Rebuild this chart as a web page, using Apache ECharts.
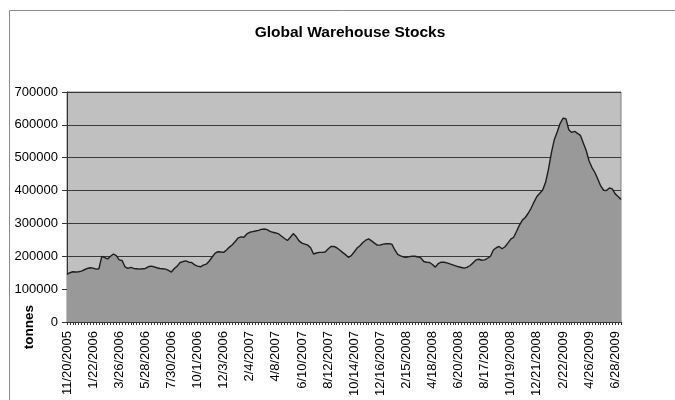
<!DOCTYPE html>
<html>
<head>
<meta charset="utf-8">
<title>Global Warehouse Stocks</title>
<script src="https://cdn.jsdelivr.net/npm/echarts@6/dist/echarts.min.js"></script>
<style>
  html, body { margin: 0; padding: 0; background: #fff; }
  #chart { width: 675px; height: 400px; }
</style>
</head>
<body>
<div id="chart"></div>
<script>
// Dated axis labels, one every nine weekly readings
var labelDates = [
  '11/20/2005', '1/22/2006', '3/26/2006', '5/28/2006', '7/30/2006', '10/1/2006',
  '12/3/2006', '2/4/2007', '4/8/2007', '6/10/2007', '8/12/2007', '10/14/2007',
  '12/16/2007', '2/15/2008', '4/18/2008', '6/20/2008', '8/17/2008', '10/19/2008',
  '12/21/2008', '2/22/2009', '4/26/2009', '6/28/2009'
];
var weeksPerLabel = 9;

// Weekly warehouse stocks, tonnes (weeks 1-50)
var stocksWeeks001to050 = [
  145000, 150000, 153000, 152000, 153000, 155000, 159000, 163000, 165000, 164000,
  161000, 162000, 200000, 196000, 192000, 200000, 207000, 202000, 189000, 187000,
  168000, 163000, 166000, 163000, 162000, 161000, 162000, 163000, 168000, 170000,
  168000, 165000, 163000, 162000, 161000, 157000, 152000, 163000, 170000, 181000,
  184000, 186000, 182000, 181000, 174000, 170000, 168000, 173000, 176000, 185000
];
// weeks 51-100
var stocksWeeks051to100 = [
  197000, 209000, 214000, 213000, 212000, 219000, 228000, 235000, 245000, 256000,
  259000, 258000, 268000, 273000, 275000, 277000, 279000, 282000, 283000, 281000,
  276000, 273000, 271000, 268000, 261000, 254000, 248000, 258000, 269000, 260000,
  247000, 240000, 237000, 234000, 226000, 207000, 210000, 212000, 212000, 213000,
  222000, 230000, 230000, 226000, 219000, 212000, 205000, 197000, 202000, 213000
];
// weeks 101-150
var stocksWeeks101to150 = [
  225000, 232000, 242000, 249000, 253000, 247000, 240000, 234000, 234000, 237000,
  238000, 238000, 237000, 220000, 206000, 201000, 198000, 197000, 199000, 200000,
  200000, 198000, 195000, 184000, 182000, 181000, 175000, 167000, 178000, 182000,
  182000, 180000, 177000, 174000, 171000, 168000, 166000, 164000, 167000, 172000,
  180000, 189000, 191000, 188000, 189000, 194000, 200000, 219000, 226000, 230000
];
// weeks 151-192
var stocksWeeks151to192 = [
  223000, 229000, 240000, 252000, 258000, 276000, 295000, 310000, 318000, 331000,
  346000, 365000, 382000, 392000, 402000, 425000, 465000, 515000, 555000, 578000,
  604000, 620000, 619000, 585000, 577000, 580000, 574000, 568000, 545000, 522000,
  490000, 470000, 455000, 435000, 414000, 401000, 400000, 408000, 405000, 390000,
  382000, 373000
];

var stocks = stocksWeeks001to050.concat(stocksWeeks051to100, stocksWeeks101to150, stocksWeeks151to192);

// Week-by-week category dates, counted forward from each labelled date
function fmt(d) {
  return (d.getMonth() + 1) + '/' + d.getDate() + '/' + d.getFullYear();
}
var categories = [];
for (var i = 0; i < stocks.length; i++) {
  var k = Math.min(Math.floor(i / weeksPerLabel), labelDates.length - 1);
  var off = i - k * weeksPerLabel;
  if (off === 0) {
    categories.push(labelDates[k]);
  } else {
    var p = labelDates[k].split('/');
    var d = new Date(+p[2], +p[0] - 1, +p[1] + off * 7);
    categories.push(fmt(d));
  }
}

var font = 'Arial, "Liberation Sans", Helvetica, sans-serif';
var chart = echarts.init(document.getElementById('chart'), null, { renderer: 'canvas' });

chart.setOption({
  animation: false,
  backgroundColor: '#ffffff',
  graphic: [
    {
      type: 'polyline',
      shape: { points: [[9.5, 400], [9.5, 10.5], [675, 10.5]] },
      style: { stroke: '#8c8c8c', lineWidth: 1, fill: null }
    },
    {
      type: 'text',
      x: 350,
      y: 33,
      style: {
        text: 'Global Warehouse Stocks',
        fontFamily: font,
        fontSize: 15.5,
        fontWeight: 'bold',
        fill: '#000',
        align: 'center',
        verticalAlign: 'middle'
      }
    },
    {
      type: 'text',
      x: 29,
      y: 327,
      rotation: Math.PI / 2,
      style: {
        text: 'tonnes',
        fontFamily: font,
        fontSize: 13.5,
        fontWeight: 'bold',
        fill: '#000',
        align: 'center',
        verticalAlign: 'middle'
      }
    }
  ],
  grid: {
    left: 67,
    right: 54,
    top: 92,
    bottom: 78,
    show: true,
    backgroundColor: '#c0c0c0',
    borderColor: '#808080',
    borderWidth: 1
  },
  xAxis: {
    type: 'category',
    data: categories,
    boundaryGap: false,
    axisLine: { show: true, lineStyle: { color: '#333', width: 1 } },
    axisTick: { show: true, interval: 0, length: 3, lineStyle: { color: '#333' } },
    axisLabel: {
      interval: weeksPerLabel - 1,
      rotate: 90,
      margin: 9,
      fontFamily: font,
      fontSize: 13,
      color: '#000'
    },
    splitLine: { show: false }
  },
  yAxis: {
    type: 'value',
    min: 0,
    max: 700000,
    interval: 100000,
    axisLine: { show: true, lineStyle: { color: '#333', width: 1 } },
    axisTick: { show: true, length: 5, lineStyle: { color: '#333' } },
    axisLabel: {
      margin: 9,
      fontFamily: font,
      fontSize: 13,
      color: '#000',
      formatter: function (v) { return String(v); }
    },
    splitLine: { show: true, lineStyle: { color: '#3a3a3a', width: 1 } }
  },
  series: [{
    type: 'line',
    data: stocks,
    symbol: 'none',
    lineStyle: { color: '#1e1e1e', width: 1.4 },
    areaStyle: { color: '#999999', opacity: 1 },
    z: 3
  }]
});
</script>
</body>
</html>
